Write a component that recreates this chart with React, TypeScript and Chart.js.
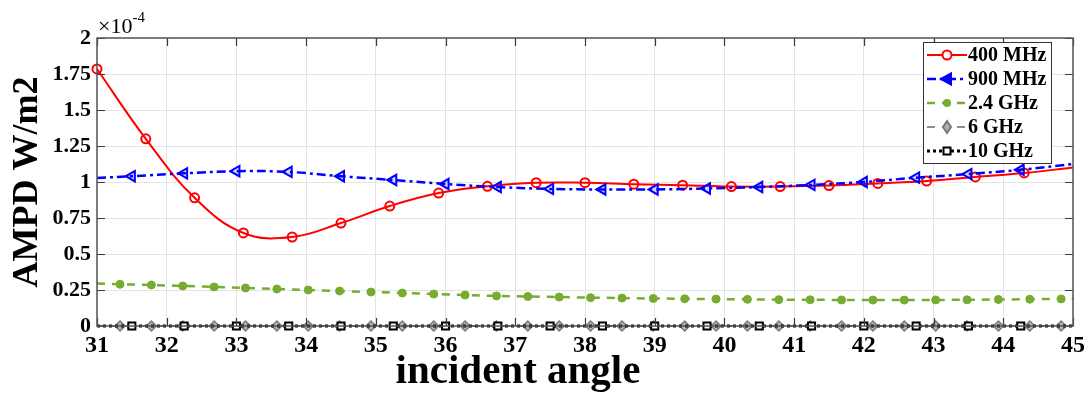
import { useEffect, useRef } from 'react';
import { Chart, registerables } from 'chart.js';

Chart.register(...registerables);

// ---- data (values in units of 1e-4 W/m2) ----
const xTicks = [31, 32, 33, 34, 35, 36, 37, 38, 39, 40, 41, 42, 43, 44, 45];
const yTicks = [0, 0.25, 0.5, 0.75, 1, 1.25, 1.5, 1.75, 2];
const yTickLabels = ['0', '0.25', '0.5', '0.75', '1', '1.25', '1.5', '1.75', '2'];

const seriesNames = ['400 MHz', '900 MHz', '2.4 GHz', '6 GHz', '10 GHz'];

const x400 = [31, 31.7, 32.4, 33.1, 33.8, 34.5, 35.2, 35.9, 36.6, 37.3, 38.0, 38.7, 39.4, 40.1, 40.8, 41.5, 42.2, 42.9, 43.6, 44.3, 45];
const y400 = [1.785, 1.3, 0.89, 0.646, 0.618, 0.715, 0.833, 0.923, 0.97, 0.995, 0.995, 0.985, 0.978, 0.968, 0.968, 0.975, 0.99, 1.007, 1.035, 1.063, 1.1];

const x900 = [31, 31.5, 32.25, 33, 33.75, 34.5, 35.25, 36, 36.75, 37.5, 38.25, 39, 39.75, 40.5, 41.25, 42, 42.75, 43.5, 44.25, 45];
const y900 = [1.028, 1.04, 1.06, 1.075, 1.07, 1.04, 1.014, 0.986, 0.965, 0.952, 0.948, 0.948, 0.955, 0.965, 0.98, 1.0, 1.03, 1.055, 1.085, 1.125];

const x24 = [31, 31.33, 31.78, 32.23, 32.68, 33.13, 33.58, 34.03, 34.48, 34.93, 35.38, 35.83, 36.28, 36.73, 37.18, 37.63, 38.08, 38.53, 38.98, 39.43, 39.88, 40.33, 40.78, 41.23, 41.68, 42.13, 42.58, 43.03, 43.48, 43.93, 44.38, 44.83, 45];
const y24 = [0.295, 0.29, 0.285, 0.278, 0.271, 0.264, 0.257, 0.25, 0.243, 0.236, 0.229, 0.222, 0.215, 0.209, 0.205, 0.201, 0.197, 0.194, 0.191, 0.189, 0.187, 0.185, 0.183, 0.182, 0.181, 0.18, 0.18, 0.181, 0.182, 0.184, 0.186, 0.188, 0.19];

const x6 = x24;
const y6 = x24.map(() => 0);

const x10 = x900;
const y10 = x900.map(() => 0);

const pts = (xs: number[], ys: number[]) => xs.map((x, i) => ({ x, y: ys[i] }));
// markers everywhere except at the axis limits (first marker kept for 400 MHz)
const radii = (xs: number[], r: number, keepFirst = false) =>
  xs.map((_, i) => (i === xs.length - 1 || (!keepFirst && i === 0) ? 0 : r));

const SERIF = '"Liberation Serif", "Times New Roman", serif';
const GREEN = '#77ac30';

const legendStyles = [
  { color: '#ff0000', dash: [] as number[], width: 2, marker: 'circle' },
  { color: '#0000ff', dash: [9, 4, 3, 4], width: 2.5, marker: 'triLeft' },
  { color: GREEN, dash: [8, 7], width: 2.5, marker: 'dot' },
  { color: '#8c8c8c', dash: [8, 7], width: 2, marker: 'diamond' },
  { color: '#000000', dash: [3, 3], width: 3, marker: 'square' },
];

function drawMarker(ctx: CanvasRenderingContext2D, kind: string, x: number, y: number, color: string) {
  ctx.save();
  ctx.setLineDash([]);
  ctx.lineWidth = 2;
  ctx.strokeStyle = color;
  ctx.fillStyle = color;
  ctx.beginPath();
  if (kind === 'circle') {
    ctx.arc(x, y, 4.5, 0, Math.PI * 2);
    ctx.fillStyle = '#fff';
    ctx.fill();
    ctx.stroke();
  } else if (kind === 'triLeft') {
    ctx.moveTo(x - 6, y);
    ctx.lineTo(x + 4, y - 5.5);
    ctx.lineTo(x + 4, y + 5.5);
    ctx.closePath();
    ctx.fill();
    ctx.stroke();
  } else if (kind === 'dot') {
    ctx.arc(x, y, 4, 0, Math.PI * 2);
    ctx.fill();
  } else if (kind === 'diamond') {
    ctx.moveTo(x, y - 6);
    ctx.lineTo(x + 4, y);
    ctx.lineTo(x, y + 6);
    ctx.lineTo(x - 4, y);
    ctx.closePath();
    ctx.fillStyle = '#b0b0b0';
    ctx.strokeStyle = '#7a7a7a';
    ctx.fill();
    ctx.stroke();
  } else if (kind === 'square') {
    ctx.rect(x - 3.5, y - 3.5, 7, 7);
    ctx.fillStyle = '#fff';
    ctx.fill();
    ctx.stroke();
  }
  ctx.restore();
}

const decorPlugin = {
  id: 'decor',
  afterDatasetsDraw(chart: any) {
    const { ctx, chartArea: a, scales } = chart;
    const xs = scales.x;
    const ys = scales.y;
    ctx.save();
    // inward tick marks
    ctx.strokeStyle = '#3a3a3a';
    ctx.lineWidth = 1.2;
    ctx.setLineDash([]);
    const tl = 8;
    ctx.beginPath();
    xTicks.forEach((t) => {
      const px = Math.round(xs.getPixelForValue(t)) + 0.5;
      ctx.moveTo(px, a.bottom);
      ctx.lineTo(px, a.bottom - tl);
      ctx.moveTo(px, a.top);
      ctx.lineTo(px, a.top + tl);
    });
    yTicks.forEach((t) => {
      const py = Math.round(ys.getPixelForValue(t)) + 0.5;
      ctx.moveTo(a.left, py);
      ctx.lineTo(a.left + tl, py);
      ctx.moveTo(a.right, py);
      ctx.lineTo(a.right - tl, py);
    });
    ctx.stroke();
    // frame
    ctx.strokeStyle = '#555';
    ctx.lineWidth = 1.5;
    ctx.strokeRect(a.left, a.top, a.right - a.left, a.bottom - a.top);

    // legend
    const bw = 128;
    const bh = 121;
    const bx = a.right - 22 - bw;
    const by = a.top + 4;
    ctx.fillStyle = '#fff';
    ctx.fillRect(bx, by, bw, bh);
    ctx.strokeStyle = '#333';
    ctx.lineWidth = 1;
    ctx.strokeRect(bx + 0.5, by + 0.5, bw, bh);
    ctx.font = `bold 20px ${SERIF}`;
    ctx.textAlign = 'left';
    ctx.textBaseline = 'middle';
    legendStyles.forEach((s, i) => {
      const ry = by + 13 + i * 24;
      ctx.save();
      ctx.strokeStyle = s.color;
      ctx.lineWidth = s.width;
      ctx.setLineDash(s.dash);
      ctx.beginPath();
      ctx.moveTo(bx + 4, ry);
      ctx.lineTo(bx + 44, ry);
      ctx.stroke();
      ctx.restore();
      drawMarker(ctx, s.marker, bx + 24, ry, s.color);
      ctx.fillStyle = '#000';
      ctx.fillText(seriesNames[i], bx + 45, ry + 1);
    });

    // axis titles
    ctx.fillStyle = '#000';
    ctx.font = `bold 41px ${SERIF}`;
    ctx.textAlign = 'center';
    ctx.textBaseline = 'alphabetic';
    ctx.fillText('incident angle', 518, 383);

    ctx.save();
    ctx.translate(28, (a.top + a.bottom) / 2);
    ctx.rotate(-Math.PI / 2);
    ctx.font = `bold 36px ${SERIF}`;
    ctx.textBaseline = 'middle';
    ctx.fillText('AMPD W/m2', 0, 0);
    ctx.restore();

    // exponent
    ctx.textAlign = 'left';
    ctx.textBaseline = 'alphabetic';
    ctx.font = `22px ${SERIF}`;
    ctx.fillText('\u00d710', a.left + 1, 33);
    const w = ctx.measureText('\u00d710').width;
    ctx.font = `15px ${SERIF}`;
    ctx.fillText('-4', a.left + 1 + w, 22);
    ctx.restore();
  },
};

export default function App() {
  const ref = useRef<HTMLCanvasElement | null>(null);

  useEffect(() => {
    if (!ref.current) return;
    const chart = new Chart(ref.current, {
      type: 'line',
      data: {
        datasets: [
          {
            label: seriesNames[0],
            data: pts(x400, y400),
            borderColor: '#ff0000',
            borderWidth: 2,
            tension: 0.4,
            pointStyle: 'circle',
            pointRadius: radii(x400, 4.5, true),
            pointBorderWidth: 2,
            pointBorderColor: '#ff0000',
            pointBackgroundColor: 'rgba(255,255,255,0)',
            order: 5,
          },
          {
            label: seriesNames[1],
            data: pts(x900, y900),
            borderColor: '#0000ff',
            borderWidth: 2.5,
            borderDash: [9, 4, 3, 4],
            tension: 0.4,
            pointStyle: 'triangle',
            pointRotation: -90,
            pointRadius: radii(x900, 6),
            pointBorderWidth: 2,
            pointBorderColor: '#0000ff',
            pointBackgroundColor: 'rgba(0,0,255,0.15)',
            order: 4,
          },
          {
            label: seriesNames[2],
            data: pts(x24, y24),
            borderColor: GREEN,
            borderWidth: 2.5,
            borderDash: [8, 7],
            tension: 0,
            pointStyle: 'circle',
            pointRadius: radii(x24, 4),
            pointBorderWidth: 1,
            pointBorderColor: GREEN,
            pointBackgroundColor: GREEN,
            order: 3,
          },
          {
            label: seriesNames[3],
            data: pts(x6, y6),
            borderColor: '#8c8c8c',
            borderWidth: 2,
            borderDash: [8, 7],
            tension: 0,
            pointStyle: 'rectRot',
            pointRadius: radii(x6, 5),
            pointBorderWidth: 1.5,
            pointBorderColor: '#7a7a7a',
            pointBackgroundColor: '#b5b5b5',
            order: 2,
          },
          {
            label: seriesNames[4],
            data: pts(x10, y10),
            borderColor: '#000000',
            borderWidth: 3,
            borderDash: [3, 3],
            tension: 0,
            pointStyle: 'rect',
            pointRadius: radii(x10, 5),
            pointBorderWidth: 2,
            pointBorderColor: '#000000',
            pointBackgroundColor: '#ffffff',
            order: 1,
          },
        ],
      },
      options: {
        responsive: false,
        animation: false,
        events: [],
        clip: false as any,
        layout: { padding: { left: 0, top: 38, right: 17, bottom: 0 } },
        plugins: {
          legend: { display: false },
          tooltip: { enabled: false },
          title: { display: false },
        },
        scales: {
          x: {
            type: 'linear',
            min: 31,
            max: 45,
            afterFit: (s: any) => {
              s.height = 77;
            },
            afterBuildTicks: (s: any) => {
              s.ticks = xTicks.map((v) => ({ value: v }));
            },
            ticks: {
              padding: 5,
              color: '#000',
              font: { family: SERIF, size: 24, weight: 'bold' },
              maxRotation: 0,
              autoSkip: false,
              callback: (v: any) => String(v),
            },
            grid: { color: '#e4e4e4', lineWidth: 1, drawTicks: false },
            border: { display: false },
          },
          y: {
            type: 'linear',
            min: 0,
            max: 2,
            afterFit: (s: any) => {
              s.width = 97;
            },
            afterBuildTicks: (s: any) => {
              s.ticks = yTicks.map((v) => ({ value: v }));
            },
            ticks: {
              padding: 6,
              color: '#000',
              font: { family: SERIF, size: 22, weight: 'bold' },
              autoSkip: false,
              callback: (v: any) => {
                const i = yTicks.indexOf(Number(v));
                return i >= 0 ? yTickLabels[i] : '';
              },
            },
            grid: { color: '#e4e4e4', lineWidth: 1, drawTicks: false },
            border: { display: false },
          },
        },
      },
      plugins: [decorPlugin],
    });
    return () => chart.destroy();
  }, []);

  return (
    <div style={{ position: 'fixed', left: 0, top: 0, width: 1090, height: 403, background: '#fff' }}>
      <canvas ref={ref} width={1090} height={403} style={{ display: 'block' }} />
    </div>
  );
}
